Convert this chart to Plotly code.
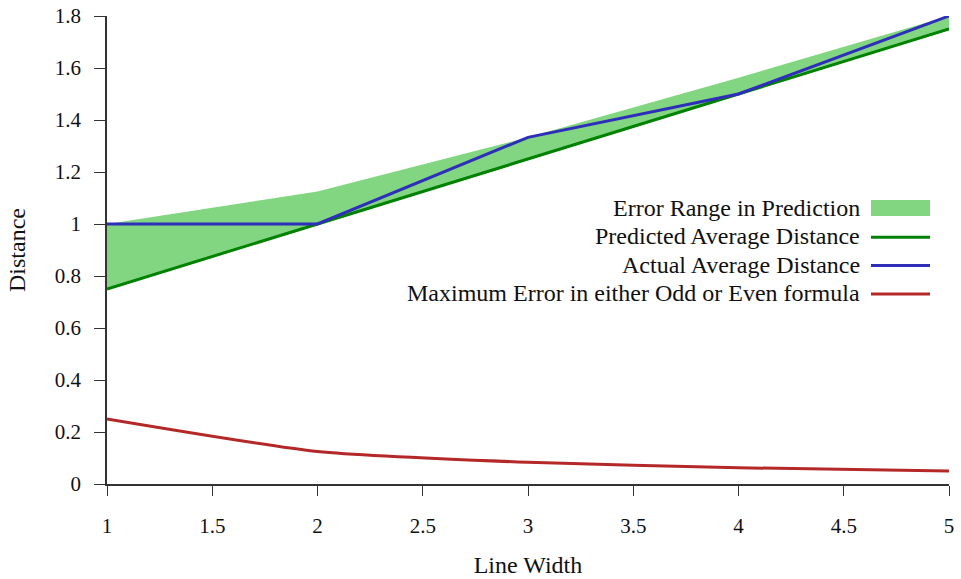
import plotly.graph_objects as go

# Line widths tested
line_width = [1, 2, 3, 4, 5]
# Average distance predicted by the formula
predicted = [0.75, 1.0, 1.25, 1.5, 1.75]
# Average distance actually measured
actual = [1.0, 1.0, 4 / 3, 1.5, 1.8]
# Largest error of the odd / even formula
max_error = [0.25, 0.125, 1 / 12, 0.0625, 0.05]
# Upper edge of the error band
upper = [p + e for p, e in zip(predicted, max_error)]

FONT = "Liberation Serif, Times New Roman, serif"
GREEN_FILL = "#82d682"
GREEN = "#008200"
BLUE = "#2e2eba"
RED = "#b52828"
AXIS = "#333333"
TEXT = "#111111"

fig = go.Figure()

fig.add_trace(go.Scatter(x=line_width, y=predicted, mode="lines",
                         line=dict(width=0), showlegend=False, hoverinfo="skip"))
fig.add_trace(go.Scatter(x=line_width, y=upper, mode="lines", fill="tonexty",
                         fillcolor=GREEN_FILL, line=dict(width=0),
                         name="Error Range in Prediction", showlegend=False))
fig.add_trace(go.Scatter(x=line_width, y=predicted, mode="lines",
                         line=dict(color=GREEN, width=3),
                         name="Predicted Average Distance", showlegend=False))
fig.add_trace(go.Scatter(x=line_width, y=actual, mode="lines",
                         line=dict(color=BLUE, width=3),
                         name="Actual Average Distance", showlegend=False))
fig.add_trace(go.Scatter(x=line_width, y=max_error, mode="lines",
                         line=dict(color=RED, width=3, shape="spline", smoothing=0.6),
                         name="Maximum Error in either Odd or Even formula",
                         showlegend=False))

W, H = 961, 579
L, R, T, B = 107, 12, 16, 95
pw, ph = W - L - R, H - T - B


def px_to_paper(xp, yp):
    return (xp - L) / pw, 1 - (yp - T) / ph


# Key: label on the left, sample on the right
key = [
    ("Error Range in Prediction", "fill", GREEN_FILL),
    ("Predicted Average Distance", "line", GREEN),
    ("Actual Average Distance", "line", BLUE),
    ("Maximum Error in either Odd or Even formula", "line", RED),
]
shapes = []
annotations = []
for i, (label, kind, color) in enumerate(key):
    yp = 208 + i * 28.3
    tx, ty = px_to_paper(862, yp)
    annotations.append(dict(x=tx, y=ty, xref="paper", yref="paper", text=label,
                            showarrow=False, xanchor="right", yanchor="middle",
                            font=dict(family=FONT, size=24, color=TEXT)))
    x0, _ = px_to_paper(871, yp)
    x1, _ = px_to_paper(930, yp)
    if kind == "fill":
        _, y0 = px_to_paper(0, yp - 8)
        _, y1 = px_to_paper(0, yp + 8)
        shapes.append(dict(type="rect", xref="paper", yref="paper", x0=x0, x1=x1,
                           y0=y0, y1=y1, fillcolor=color, line=dict(width=0)))
    else:
        _, ly = px_to_paper(0, yp + 1)
        shapes.append(dict(type="line", xref="paper", yref="paper", x0=x0, x1=x1,
                           y0=ly, y1=ly, line=dict(color=color, width=3)))

fig.update_layout(
    width=W, height=H,
    margin=dict(l=L, r=R, t=T, b=B),
    paper_bgcolor="white", plot_bgcolor="white",
    font=dict(family=FONT, size=21, color=TEXT),
    shapes=shapes, annotations=annotations,
    showlegend=False,
)
fig.update_xaxes(
    range=[1, 5], tickvals=[1, 1.5, 2, 2.5, 3, 3.5, 4, 4.5, 5],
    ticktext=["1", "1.5", "2", "2.5", "3", "3.5", "4", "4.5", "5"],
    showgrid=False, zeroline=False, showline=True, linecolor=AXIS, linewidth=1.5,
    ticks="outside", ticklen=10, tickwidth=1.2, tickcolor=AXIS,
    ticklabelstandoff=12, automargin=False, tickfont=dict(size=21),
    title=dict(text="Line Width", standoff=19, font=dict(family=FONT, size=24)),
)
fig.update_yaxes(
    range=[0, 1.8], tickvals=[0, 0.2, 0.4, 0.6, 0.8, 1, 1.2, 1.4, 1.6, 1.8],
    ticktext=["0", "0.2", "0.4", "0.6", "0.8", "1", "1.2", "1.4", "1.6", "1.8"],
    showgrid=False, zeroline=False, showline=True, linecolor=AXIS, linewidth=1.5,
    ticks="outside", ticklen=11, tickwidth=1.2, tickcolor=AXIS,
    ticklabelstandoff=9, automargin=False, tickfont=dict(size=21),
    title=dict(text="Distance", standoff=22, font=dict(family=FONT, size=24)),
)

fig.write_html("out.html")
